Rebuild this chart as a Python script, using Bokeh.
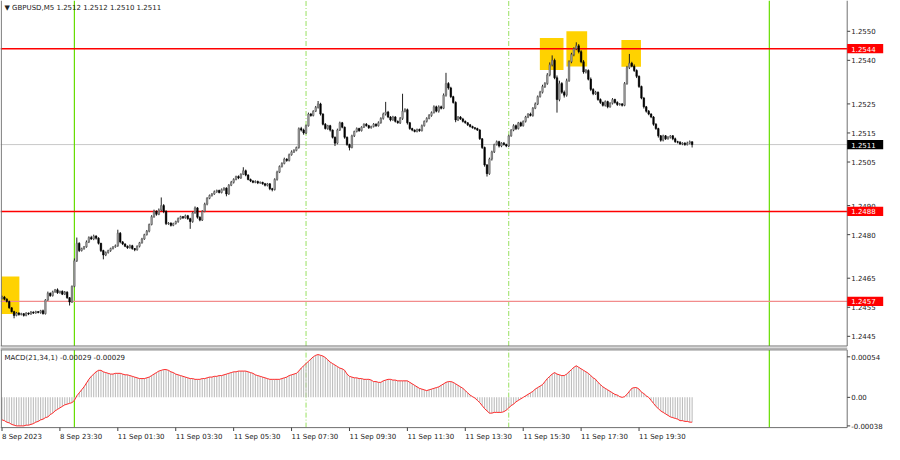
from bokeh.plotting import figure
from bokeh.models import Range1d, ColumnDataSource
from bokeh.layouts import column
from bokeh.core.properties import value
from bokeh.embed import file_html
from bokeh.resources import INLINE

# ---------------- data (GBPUSD M5, 8 Sep 21:30 -> 11 Sep 21:20) ----------------
first_open = 1.24580
closes = [
    1.24585, 1.24578, 1.24570, 1.24548, 1.24535, 1.24522, 1.24530, 1.24525, 1.24528, 1.24522,
    1.24530, 1.24527, 1.24533, 1.24530, 1.24535, 1.24532, 1.24538, 1.24528, 1.24575, 1.24598,
    1.24590, 1.24603, 1.24610, 1.24600, 1.24605, 1.24595, 1.24602, 1.24583, 1.24568, 1.24622,
    1.24710, 1.24770, 1.24745, 1.24752, 1.24758, 1.24775, 1.24790, 1.24785, 1.24795, 1.24788,
    1.24770, 1.24745, 1.24730, 1.24738, 1.24745, 1.24752, 1.24758, 1.24762, 1.24805, 1.24775,
    1.24768, 1.24760, 1.24755, 1.24762, 1.24752, 1.24748, 1.24760, 1.24772, 1.24785, 1.24800,
    1.24812, 1.24835, 1.24862, 1.24880, 1.24870, 1.24885, 1.24900, 1.24880, 1.24838, 1.24840,
    1.24832, 1.24838, 1.24845, 1.24855, 1.24862, 1.24858, 1.24865, 1.24855, 1.24845, 1.24875,
    1.24892, 1.24860, 1.24850, 1.24880, 1.24905, 1.24925, 1.24935, 1.24940, 1.24948, 1.24952,
    1.24945, 1.24955, 1.24960, 1.24940, 1.24970, 1.24980, 1.24990, 1.25000, 1.24995, 1.25008,
    1.25020, 1.25005, 1.24990, 1.24985, 1.24980, 1.24983, 1.24978, 1.24980, 1.24975, 1.24970,
    1.24975, 1.24958, 1.24955, 1.24990, 1.25015, 1.25035, 1.25045, 1.25060, 1.25055, 1.25075,
    1.25085, 1.25090, 1.25100, 1.25165, 1.25160, 1.25150, 1.25175, 1.25215, 1.25210, 1.25225,
    1.25238, 1.25250, 1.25215, 1.25180, 1.25165, 1.25175, 1.25160, 1.25135, 1.25115, 1.25160,
    1.25185, 1.25170, 1.25135, 1.25110, 1.25100, 1.25140, 1.25155, 1.25165, 1.25158, 1.25170,
    1.25180, 1.25175, 1.25168, 1.25172, 1.25180, 1.25175, 1.25185, 1.25200, 1.25215, 1.25222,
    1.25205, 1.25195, 1.25205, 1.25190, 1.25185, 1.25200, 1.25225, 1.25230, 1.25185, 1.25165,
    1.25160, 1.25155, 1.25162, 1.25158, 1.25175, 1.25190, 1.25200, 1.25210, 1.25220, 1.25240,
    1.25225, 1.25240, 1.25235, 1.25280, 1.25320, 1.25305, 1.25275, 1.25255, 1.25195, 1.25205,
    1.25198, 1.25190, 1.25185, 1.25178, 1.25172, 1.25168, 1.25165, 1.25160, 1.25130, 1.25100,
    1.25040, 1.25010, 1.25060, 1.25085, 1.25110, 1.25120, 1.25105, 1.25115, 1.25110, 1.25105,
    1.25140, 1.25160, 1.25175, 1.25165, 1.25185, 1.25175, 1.25190, 1.25205, 1.25215, 1.25210,
    1.25235, 1.25250, 1.25275, 1.25290, 1.25310, 1.25320, 1.25350, 1.25385, 1.25400, 1.25340,
    1.25265, 1.25320, 1.25290, 1.25280, 1.25330, 1.25395, 1.25420, 1.25440, 1.25450, 1.25430,
    1.25395, 1.25360, 1.25365, 1.25335, 1.25300, 1.25285, 1.25290, 1.25265, 1.25255, 1.25245,
    1.25258, 1.25240, 1.25252, 1.25265, 1.25255, 1.25248, 1.25250, 1.25245, 1.25320, 1.25375,
    1.25390, 1.25380, 1.25365, 1.25345, 1.25310, 1.25270, 1.25240, 1.25225, 1.25215, 1.25205,
    1.25180, 1.25165, 1.25140, 1.25125, 1.25140, 1.25130, 1.25135, 1.25140, 1.25130, 1.25120,
    1.25118, 1.25112, 1.25115, 1.25110, 1.25115, 1.25120, 1.25110,
]
# upper / lower wick lengths, in 0.00001
up_wick = [
    5, 4, 3, 3, 2, 3, 4, 3, 3, 2,   3, 2, 4, 3, 3, 2, 3, 4, 3, 6,
    3, 4, 3, 5, 2, 3, 4, 3, 2, 3,   8, 20, 4, 3, 3, 5, 4, 6, 5, 3,
    3, 2, 3, 4, 3, 3, 2, 4, 12, 4,  3, 2, 3, 4, 3, 2, 3, 3, 4, 3,
    4, 3, 5, 6, 4, 5, 28, 5, 4, 3,  2, 3, 3, 4, 3, 2, 4, 3, 3, 4,
    5, 3, 3, 4, 5, 4, 3, 3, 4, 3,   3, 4, 3, 3, 4, 5, 4, 3, 4, 3,
    12, 4, 3, 3, 2, 4, 3, 3, 2, 3,  3, 2, 3, 4, 5, 3, 4, 5, 3, 4,
    5, 4, 3, 4, 6, 5, 4, 5, 4, 3,   5, 10, 4, 3, 4, 3, 3, 2, 3, 5,
    4, 3, 2, 3, 3, 4, 3, 4, 3, 3,   3, 4, 3, 3, 4, 3, 5, 4, 5, 35,
    4, 3, 4, 3, 3, 5, 60, 5, 4, 3,  3, 2, 3, 3, 4, 3, 4, 5, 4, 5,
    4, 5, 4, 6, 37, 5, 4, 3, 4, 3,  3, 4, 3, 2, 3, 3, 2, 3, 3, 2,
    3, 3, 5, 4, 3, 4, 3, 3, 4, 3,   4, 3, 5, 4, 3, 4, 3, 4, 3, 5,
    4, 5, 4, 5, 6, 5, 6, 8, 17, 6,  8, 10, 5, 6, 7, 5, 6, 5, 12, 6,
    5, 6, 5, 4, 6, 4, 5, 3, 4, 3,   4, 3, 4, 5, 3, 4, 3, 3, 5, 6,
    32, 5, 6, 4, 3, 3, 4, 3, 4, 3,  3, 4, 3, 3, 4, 3, 4, 3, 3, 4,
    3, 4, 3, 3, 5, 4, 0,
]
dn_wick = [
    3, 4, 4, 3, 3, 10, 3, 4, 3, 4,  3, 4, 3, 3, 2, 3, 4, 3, 3, 3,
    4, 3, 3, 4, 3, 3, 3, 4, 12, 3,  3, 4, 5, 3, 4, 3, 4, 3, 4, 5,
    4, 5, 15, 4, 3, 4, 3, 3, 4, 5,  4, 3, 4, 3, 4, 5, 3, 4, 3, 3,
    3, 4, 3, 4, 5, 3, 4, 6, 5, 4,   4, 3, 3, 4, 3, 4, 3, 4, 25, 4,
    3, 5, 4, 3, 3, 4, 3, 4, 3, 4,   3, 3, 4, 8, 3, 3, 4, 3, 4, 3,
    3, 4, 3, 4, 3, 3, 4, 3, 3, 4,   4, 5, 6, 3, 4, 3, 4, 3, 4, 3,
    3, 4, 3, 4, 5, 6, 4, 3, 4, 3,   3, 4, 5, 4, 3, 4, 5, 4, 10, 4,
    3, 4, 5, 4, 10, 3, 4, 3, 4, 3,  3, 3, 4, 3, 3, 4, 3, 3, 4, 5,
    4, 5, 3, 4, 3, 4, 5, 4, 6, 4,   4, 3, 3, 4, 3, 3, 4, 3, 4, 3,
    4, 5, 4, 3, 5, 6, 5, 4, 8, 4,   3, 4, 3, 4, 3, 3, 4, 3, 4, 5,
    6, 10, 4, 5, 4, 3, 5, 4, 3, 4,  4, 3, 4, 5, 3, 4, 3, 4, 4, 3,
    4, 3, 4, 3, 4, 5, 4, 5, 6, 5,   45, 6, 5, 8, 5, 4, 5, 6, 5, 6,
    5, 6, 5, 4, 6, 5, 4, 4, 5, 4,   4, 5, 3, 4, 4, 5, 4, 4, 3, 4,
    5, 4, 5, 6, 5, 4, 6, 5, 4, 4,   5, 4, 6, 5, 4, 4, 3, 4, 5, 4,
    4, 3, 4, 4, 3, 4, 10,
]
# MACD(21,34,1) values, in 0.00001
macd_e5 = [
    -30, -31, -33, -34, -36, -37, -38, -38, -38, -38,  -37, -37, -36, -35, -33, -32, -30, -29, -27, -26,
    -23, -21, -18, -16, -14, -12, -10, -9, -8, -7,     -4, 2, 6, 10, 14, 19, 24, 28, 31, 34,
    36, 36, 34, 33, 32, 31, 31, 32, 32, 32,            31, 30, 30, 29, 28, 27, 26, 25, 25, 25,
    26, 27, 29, 31, 33, 35, 36, 37, 37, 36,            34, 33, 31, 30, 29, 28, 27, 26, 25, 25,
    24, 24, 24, 25, 25, 26, 27, 27, 28, 28,            29, 29, 30, 31, 32, 33, 34, 34, 35, 35,
    35, 35, 34, 33, 32, 30, 29, 28, 27, 26,            25, 24, 24, 24, 24, 24, 25, 26, 27, 29,
    30, 31, 32, 35, 39, 42, 45, 48, 51, 54,            56, 57, 56, 55, 53, 50, 47, 45, 43, 41,
    39, 38, 36, 31, 28, 27, 26, 26, 25, 25,            24, 24, 24, 23, 21, 21, 20, 20, 22, 23,
    24, 24, 23, 23, 22, 22, 22, 22, 22, 20,            18, 16, 14, 12, 11, 10, 9, 10, 11, 12,
    13, 14, 16, 18, 20, 21, 21, 20, 18, 16,            14, 12, 9, 6, 3, 1, -1, -4, -7, -11,
    -15, -18, -21, -21, -20, -20, -20, -20, -19, -17,  -14, -11, -9, -6, -4, -2, 0, 2, 4, 6,
    8, 11, 13, 15, 17, 21, 25, 28, 31, 33,             31, 30, 29, 29, 31, 34, 37, 40, 42, 40,
    38, 36, 34, 32, 29, 26, 24, 20, 17, 14,            12, 10, 8, 6, 4, 3, 1, 0, 1, 4,
    8, 12, 13, 13, 11, 7, 5, 2, 0, -4,                 -8, -12, -15, -18, -20, -22, -24, -26, -27, -28,
    -29, -31, -31, -32, -32, -33, -33,
]
time_tick_bars = [0, 24, 48, 72, 96, 120, 144, 168, 192, 216, 240, 264]
time_tick_labels = ["8 Sep 2023", "8 Sep 23:30", "11 Sep 01:30", "11 Sep 03:30", "11 Sep 05:30",
                    "11 Sep 07:30", "11 Sep 09:30", "11 Sep 11:30", "11 Sep 13:30", "11 Sep 15:30",
                    "11 Sep 17:30", "11 Sep 19:30"]
price_ticks = [1.2445, 1.2455, 1.2465, 1.2480, 1.2490, 1.2505, 1.2515, 1.2525, 1.2540, 1.2550]
macd_ticks = [-0.00038, 0.0, 0.00054]
macd_tick_labels = ["-0.00038", "0.00", "0.00054"]
level_lines = [1.2544, 1.2488, 1.2457]
level_colors = ["#ff0000", "#ff0000", "#f28c8c"]
current_price = 1.2511
day_lines = [30, 318]        # 11 Sep 00:00, 12 Sep 00:00
session_lines = [126, 210]   # 11 Sep 08:00, 15:00
# highlighted zones: (first bar, last bar, low price, high price)
zones = [(-0.3, 7.2, 1.24527, 1.24656), (222.9, 232.7, 1.25367, 1.25477),
         (233.9, 242.5, 1.25379, 1.25500), (256.7, 264.8, 1.25378, 1.25470)]
title_text = "\u25bc GBPUSD,M5  1.2512 1.2512 1.2510 1.2511"
macd_text = "MACD(21,34,1) -0.00029 -0.00029"

# ---------------- derived ----------------
n = min(len(closes), len(up_wick), len(dn_wick), len(macd_e5))
idx = list(range(n))
cl = closes[:n]
op = [first_open] + cl[:n - 1]
hi = [max(o, c) + u * 1e-5 for o, c, u in zip(op, cl, up_wick)]
lo = [min(o, c) - d * 1e-5 for o, c, d in zip(op, cl, dn_wick)]
macd = [v * 1e-5 for v in macd_e5[:n]]
bull = [i for i in idx if cl[i] >= op[i]]
bear = [i for i in idx if cl[i] < op[i]]
src_bull = ColumnDataSource(dict(x=bull, top=[max(op[i], cl[i]) for i in bull], bot=[min(op[i], cl[i]) for i in bull]))
src_bear = ColumnDataSource(dict(x=bear, top=[max(op[i], cl[i]) for i in bear], bot=[min(op[i], cl[i]) for i in bear]))

# ---------------- geometry (pixels -> data) ----------------
FONT = value("DejaVu Sans")
FS = value("7px")
TXT = "#222222"
BORDER = "#707070"
W = 884
S = 2.413                      # px per bar
XS = -1.5 / S
XE = (W - 1.5) / S
AX = (846.7 - 1.5) / S         # position of the price axis line (in bars)
def bx(px):
    return px / S

H1 = 347
PPX = 29050.0                  # px per price unit
YTOP = 1.25606
YBOT = YTOP - H1 / PPX
def py(px):
    return YTOP - px / PPX

H2 = 97
MPX = 75100.0
MTOP = 0.000664
MBOT = MTOP - H2 / MPX
def my(px):
    return MTOP - px / MPX

M_TOP_B = my(2.4)
M_BOT_B = my(80.1)

# ---------------- main price panel ----------------
p = figure(width=W, height=H1, x_range=Range1d(XS, XE), y_range=Range1d(YBOT, YTOP),
           output_backend="svg", toolbar_location=None, min_border=0)
p.axis.visible = False
p.grid.visible = False
p.outline_line_color = None
p.background_fill_color = "white"
p.border_fill_color = "white"

p.quad(left=[z[0] for z in zones], right=[z[1] for z in zones],
       bottom=[z[2] for z in zones], top=[z[3] for z in zones],
       fill_color="#FFD200", line_color=None)

p.segment(x0=[XS], y0=[current_price], x1=[AX], y1=[current_price], line_color="#c8c8c8", line_width=1)
p.segment(x0=day_lines, y0=[py(345.5)] * len(day_lines), x1=day_lines, y1=[YTOP] * len(day_lines),
          line_color="#66dd00", line_width=1.2)
p.segment(x0=session_lines, y0=[py(345.5)] * len(session_lines), x1=session_lines,
          y1=[YTOP] * len(session_lines), line_color="#99e060", line_width=1, line_dash="5 2 1 2")
p.segment(x0=[XS] * len(level_lines), y0=level_lines, x1=[AX] * len(level_lines), y1=level_lines,
          line_color=level_colors, line_width=[1.5, 1.5, 1.2])

p.segment(x0=idx, y0=lo, x1=idx, y1=hi, line_color="#202020", line_width=1)
p.vbar(x="x", top="top", bottom="bot", width=0.62, source=src_bull,
       fill_color="#a8a8a8", line_color="#5a5a5a", line_width=0.6)
p.vbar(x="x", top="top", bottom="bot", width=0.62, source=src_bear,
       fill_color="#000000", line_color="#000000", line_width=0.6)

# frame borders and price axis
p.segment(x0=[XS + bx(0.8), XS, AX], y0=[py(345.5), py(345.5), py(345.5)],
          x1=[XS + bx(0.8), AX, AX], y1=[YTOP, py(345.5), YTOP], line_color=BORDER, line_width=1)
p.segment(x0=[AX] * len(price_ticks), y0=price_ticks, x1=[AX + bx(3)] * len(price_ticks), y1=price_ticks,
          line_color="#404040", line_width=1)
p.text(x=[AX + bx(4)] * len(price_ticks), y=price_ticks, text=["%.4f" % t for t in price_ticks],
       text_font=FONT, text_font_size=FS, text_color=TXT, text_baseline="middle", text_align="left")

tags = [level_lines[0], current_price, level_lines[1], level_lines[2]]
tag_cols = ["#ff0000", "#000000", "#ff0000", "#ff0000"]
p.quad(left=[AX] * 4, right=[AX + bx(36)] * 4, bottom=[t - 4.6 / PPX for t in tags],
       top=[t + 4.6 / PPX for t in tags], fill_color=tag_cols, line_color=None)
p.text(x=[AX + bx(4)] * 4, y=tags, text=["%.4f" % t for t in tags], text_font=FONT,
       text_font_size=FS, text_color="white", text_baseline="middle", text_align="left")

p.text(x=[XS + bx(4)], y=[py(7)], text=[title_text], text_font=FONT, text_font_size=FS,
       text_color=TXT, text_baseline="middle", text_align="left")

# ---------------- MACD panel ----------------
m = figure(width=W, height=H2, x_range=p.x_range, y_range=Range1d(MBOT, MTOP),
           output_backend="svg", toolbar_location=None, min_border=0)
m.axis.visible = False
m.grid.visible = False
m.outline_line_color = None
m.background_fill_color = "white"
m.border_fill_color = "white"

m.segment(x0=day_lines, y0=[M_BOT_B] * 2, x1=day_lines, y1=[M_TOP_B] * 2,
          line_color="#66dd00", line_width=1.2)
m.segment(x0=session_lines, y0=[M_BOT_B] * 2, x1=session_lines, y1=[M_TOP_B] * 2,
          line_color="#99e060", line_width=1, line_dash="5 2 1 2")

m.vbar(x=idx, top=macd, bottom=0, width=0.45, fill_color="#bdbdbd", line_color=None)
m.line(idx, macd, line_color="#ff2a2a", line_width=1)

m.segment(x0=[XS, XS, XS + bx(0.8), AX], y0=[M_TOP_B, M_BOT_B, M_BOT_B, M_BOT_B],
          x1=[AX, AX, XS + bx(0.8), AX], y1=[M_TOP_B, M_BOT_B, M_TOP_B, M_TOP_B],
          line_color=BORDER, line_width=1)
m.segment(x0=[XS], y0=[my(0.6)], x1=[AX], y1=[my(0.6)], line_color="#9a9a9a", line_width=1.5)
m.segment(x0=[AX] * 3, y0=macd_ticks, x1=[AX + bx(3)] * 3, y1=macd_ticks, line_color="#404040")
m.text(x=[AX + bx(4)] * 3, y=macd_ticks, text=macd_tick_labels, text_font=FONT, text_font_size=FS,
       text_color=TXT, text_baseline="middle", text_align="left")
m.segment(x0=time_tick_bars, y0=[M_BOT_B] * len(time_tick_bars), x1=time_tick_bars,
          y1=[my(83.5)] * len(time_tick_bars), line_color="#404040")
m.text(x=time_tick_bars, y=[my(89)] * len(time_tick_bars), text=time_tick_labels, text_font=FONT,
       text_font_size=FS, text_color=TXT, text_baseline="middle", text_align="left")
m.text(x=[XS + bx(4)], y=[my(10)], text=[macd_text], text_font=FONT, text_font_size=FS,
       text_color=TXT, text_baseline="middle", text_align="left")

layout = column(p, m, spacing=0)
open("out.html", "w").write(file_html(layout, INLINE))
